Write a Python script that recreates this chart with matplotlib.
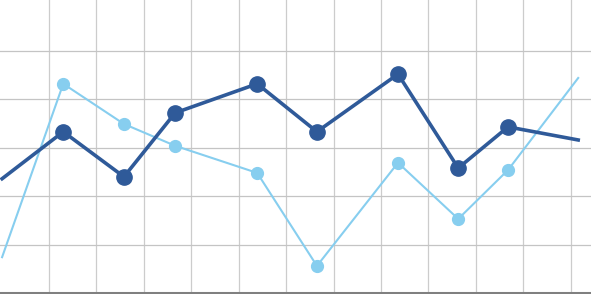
import matplotlib
matplotlib.use("Agg")
import matplotlib.pyplot as plt

# x positions (in grid units) and the two series
x_pos = [0.01, 1.30, 2.58, 3.66, 5.39, 6.65, 8.36, 9.63, 10.68, 12.16]
dark_vals = [2.36, 3.33, 2.40, 3.72, 4.32, 3.33, 4.52, 2.58, 3.43, 3.16]
light_vals = [0.74, 4.32, 3.49, 3.04, 2.48, 0.56, 2.69, 1.53, 2.54, 4.44]
x_grid = list(range(1, 13))
y_grid = [1, 2, 3, 4, 5]

fig = plt.figure(figsize=(5.91, 2.94), dpi=100)
fig.set_facecolor("white")
ax = fig.add_axes([0, 0, 1, 1])

# grid
for gx in x_grid:
    ax.axvline(gx, color="#cccccc", lw=0.9, zorder=0)
for gy in y_grid:
    ax.axhline(gy, color="#c4c4c4", lw=0.9, zorder=0)
ax.axhline(0, color="#808080", lw=2.2, zorder=1, clip_on=False)

ax.plot(x_pos, light_vals, color="#87CEEF", lw=1.5, marker="o", ms=8.5,
        markevery=slice(1, -1), zorder=2)
ax.plot(x_pos, dark_vals, color="#2F5A99", lw=2.6, marker="o", ms=11,
        markevery=slice(1, -1), zorder=3)

ax.set_xlim(-0.034, 12.43)
ax.set_ylim(-0.02, 6.05)
ax.axis("off")

fig.savefig("out.png", dpi=100)
